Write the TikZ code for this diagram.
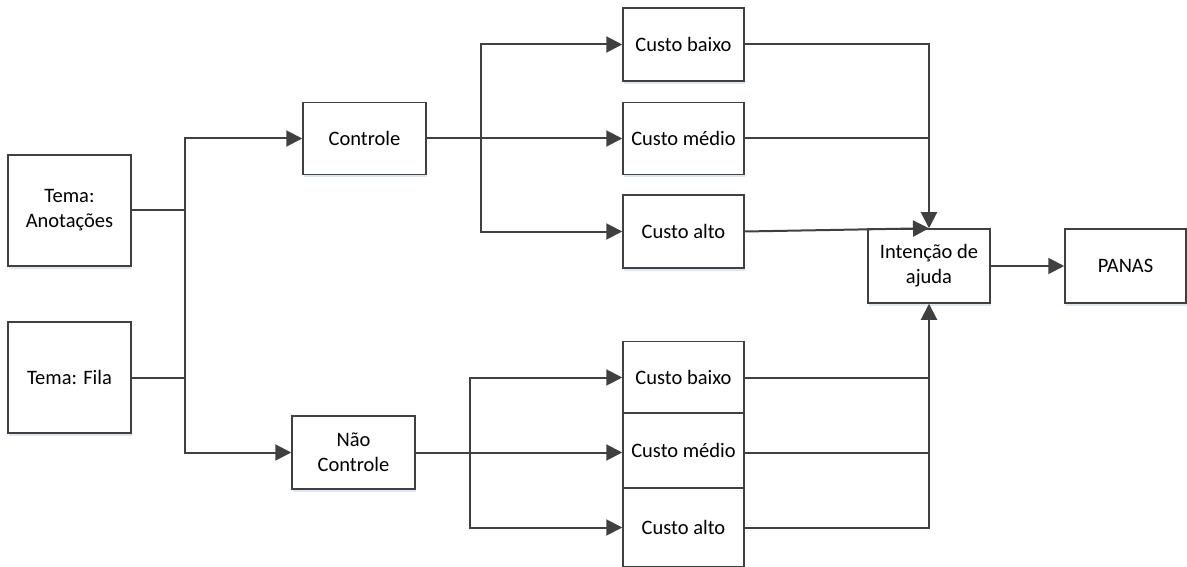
\documentclass[tikz,border=0pt]{standalone}
\usepackage{fontspec}
\setmainfont{Carlito}
\usetikzlibrary{arrows.meta,shadows}
\definecolor{ln}{HTML}{404040}
\definecolor{shd}{HTML}{DCE8F5}
\begin{document}
\begin{tikzpicture}[x=1pt,y=-1pt,
  box/.style={draw=ln,line width=1.5pt,fill=white,align=center,inner sep=2pt,
    font=\fontsize{20.5}{25}\selectfont,
    drop shadow={shadow xshift=1pt,shadow yshift=-3pt,fill=shd,opacity=1}},
  conn/.style={draw=ln,line width=2pt},
  arr/.style={conn,-{Triangle[length=16pt,width=16pt]}}]
\useasboundingbox (0,0) rectangle (1187,567);
\node[box,minimum width=123pt,minimum height=111pt] (tA) at (69.5,210.5) {Tema:\\Anotações};
\node[box,minimum width=123pt,minimum height=111pt] (tF) at (69.5,377.5) {Tema: Fila};
\node[box,minimum width=123pt,minimum height=72pt] (ctl) at (364.5,138.5) {Controle};
\node[box,minimum width=123pt,minimum height=73pt] (nctl) at (353.5,452.5) {Não\\Controle};
\node[box,minimum width=121pt,minimum height=73pt] (cb1) at (683.5,44.5) {Custo baixo};
\node[box,minimum width=121pt,minimum height=72pt] (cm1) at (683.5,138.5) {Custo médio};
\node[box,minimum width=121pt,minimum height=73pt] (ca1) at (683.5,231.5) {Custo alto};
\node[box,minimum width=121pt,minimum height=72pt] (cb2) at (683.5,377.5) {Custo baixo};
\node[box,minimum width=121pt,minimum height=75pt] (cm2) at (683.5,450.5) {Custo médio};
\node[box,minimum width=121pt,minimum height=78pt] (ca2) at (683.5,527.5) {Custo alto};
\node[box,minimum width=122pt,minimum height=74pt] (int) at (929,266) {Intenção de\\ajuda};
\node[box,minimum width=121pt,minimum height=74pt] (pan) at (1125.5,266) {PANAS};
\coordinate (b1) at (185,0);
\coordinate (b2) at (481,0);
\coordinate (b3) at (470,0);
% left
\draw[arr] (tA.east) -- (b1 |- tA.east) |- (ctl.west);
\draw[arr] (tF.east) -- (b1 |- tF.east) |- (nctl.west);
\draw[conn] (b1 |- tA.east) -- (b1 |- tF.east);
% top branch
\draw[arr] (ctl.east) -- (cm1.west);
\draw[arr] (b2 |- ctl.east) |- (cb1.west);
\draw[arr] (b2 |- ctl.east) |- (ca1.west);
% bottom branch
\draw[arr] (nctl.east) -- (cm2.west |- nctl.east);
\draw[arr] (b3 |- nctl.east) |- (cb2.west);
\draw[arr] (b3 |- nctl.east) |- (ca2.west);
% merge top
\draw[arr] (cb1.east) -| (int.north);
\draw[conn] (cm1.east) -- (int.north |- cm1.east);
\draw[arr] (ca1.east) -- (int.north);
% merge bottom
\draw[arr] (ca2.east) -| (int.south);
\draw[conn] (cb2.east) -- (int.south |- cb2.east);
\draw[conn] (cm2.east |- nctl.east) -- (int.south |- nctl.east);
% out
\draw[arr] (int.east) -- (pan.west);
\end{tikzpicture}
\end{document}
